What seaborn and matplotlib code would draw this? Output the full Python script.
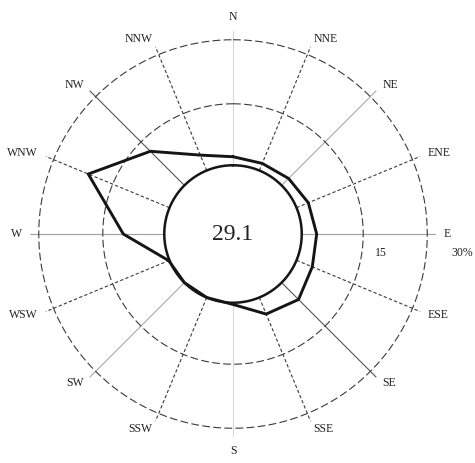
import numpy as np
import pandas as pd
import matplotlib
matplotlib.use("Agg")
import matplotlib.pyplot as plt
import seaborn as sns

# Wind direction frequencies (%) and calm frequency
directions = ["N", "NNE", "NE", "ENE", "E", "ESE", "SE", "SSE",
              "S", "SSW", "SW", "WSW", "W", "WNW", "NW", "NNW"]
frequency = [2.6, 2.4, 2.9, 3.6, 4.1, 4.6, 6.2, 4.8,
             1.0, 0.6, 0.6, 0.8, 10.2, 21.2, 11.9, 4.5]
calm = 29.1
ring_values = [15, 30]

sns.set_theme(style="white")
plt.rcParams["font.family"] = ["Liberation Serif", "DejaVu Serif"]

R_INNER = -15.5   # radius offset reserved for the calm circle
R_OUTER = 32.0
CALM_R = 0.6

fig = plt.figure(figsize=(4.75, 4.63), dpi=100)
ax = fig.add_axes([0.0636, 0.0566, 0.8539, 0.876], projection="polar")
ax.set_theta_zero_location("N")
ax.set_theta_direction(-1)
ax.set_ylim(R_INNER, R_OUTER)
ax.set_xticks([])
ax.set_yticks([])
ax.grid(False)
for sp in ax.spines.values():
    sp.set_visible(False)

angles = np.deg2rad(np.arange(len(directions)) * 22.5)

# spokes
spoke_style = {
    "N": ("#d8d8d8", "-"), "S": ("#d8d8d8", "-"),
    "E": ("#a0a0a0", "-"), "W": ("#a0a0a0", "-"),
    "NE": ("#a8a8a8", "-"), "SW": ("#a8a8a8", "-"),
    "NW": ("#555555", "-"), "SE": ("#555555", "-"),
}
for d, a in zip(directions, angles):
    color, ls = spoke_style.get(d, ("#3a3a3a", (0, (3, 2))))
    ax.plot([a, a], [CALM_R, R_OUTER], color=color, lw=0.8, ls=ls, zorder=1)

# frequency rings
full = np.linspace(0, 2 * np.pi, 361)
for rv in ring_values:
    ax.plot(full, np.full_like(full, rv), color="#3a3a3a", lw=0.8,
            ls=(0, (7, 3)), zorder=1)

# wind rose outline
df = pd.DataFrame({
    "theta": np.append(angles, 2 * np.pi),
    "freq": frequency + [frequency[0]],
})
sns.lineplot(data=df, x="theta", y="freq", sort=False, estimator=None,
             color="#151515", lw=2.1, ax=ax, zorder=3)
ax.set_xlabel("")
ax.set_ylabel("")

# calm circle
ax.plot(full, np.full_like(full, CALM_R), color="#151515", lw=1.8, zorder=4)
ax.text(0.5, 0.5, f"{calm}", transform=ax.transAxes, ha="center",
        va="center", fontsize=17, color="#222222")

# direction labels
r_lab = 33.9
for d, a in zip(directions, angles):
    s, c = np.sin(a), np.cos(a)
    ha = "left" if s > 0.1 else ("right" if s < -0.1 else "center")
    va = "bottom" if c > 0.95 else ("top" if c < -0.95 else "center")
    ax.text(a, r_lab, d, ha=ha, va=va, fontsize=8.5, color="#222222",
            clip_on=False)

ax.text(np.deg2rad(97.5), 19.4, f"{ring_values[0]}", ha="center",
        va="center", fontsize=8.5, color="#222222")
ax.text(np.deg2rad(94.7), 38.3, f"{ring_values[1]}%", ha="center",
        va="center", fontsize=8.5, color="#222222", clip_on=False)

fig.savefig("out.png", dpi=100, facecolor="white")
